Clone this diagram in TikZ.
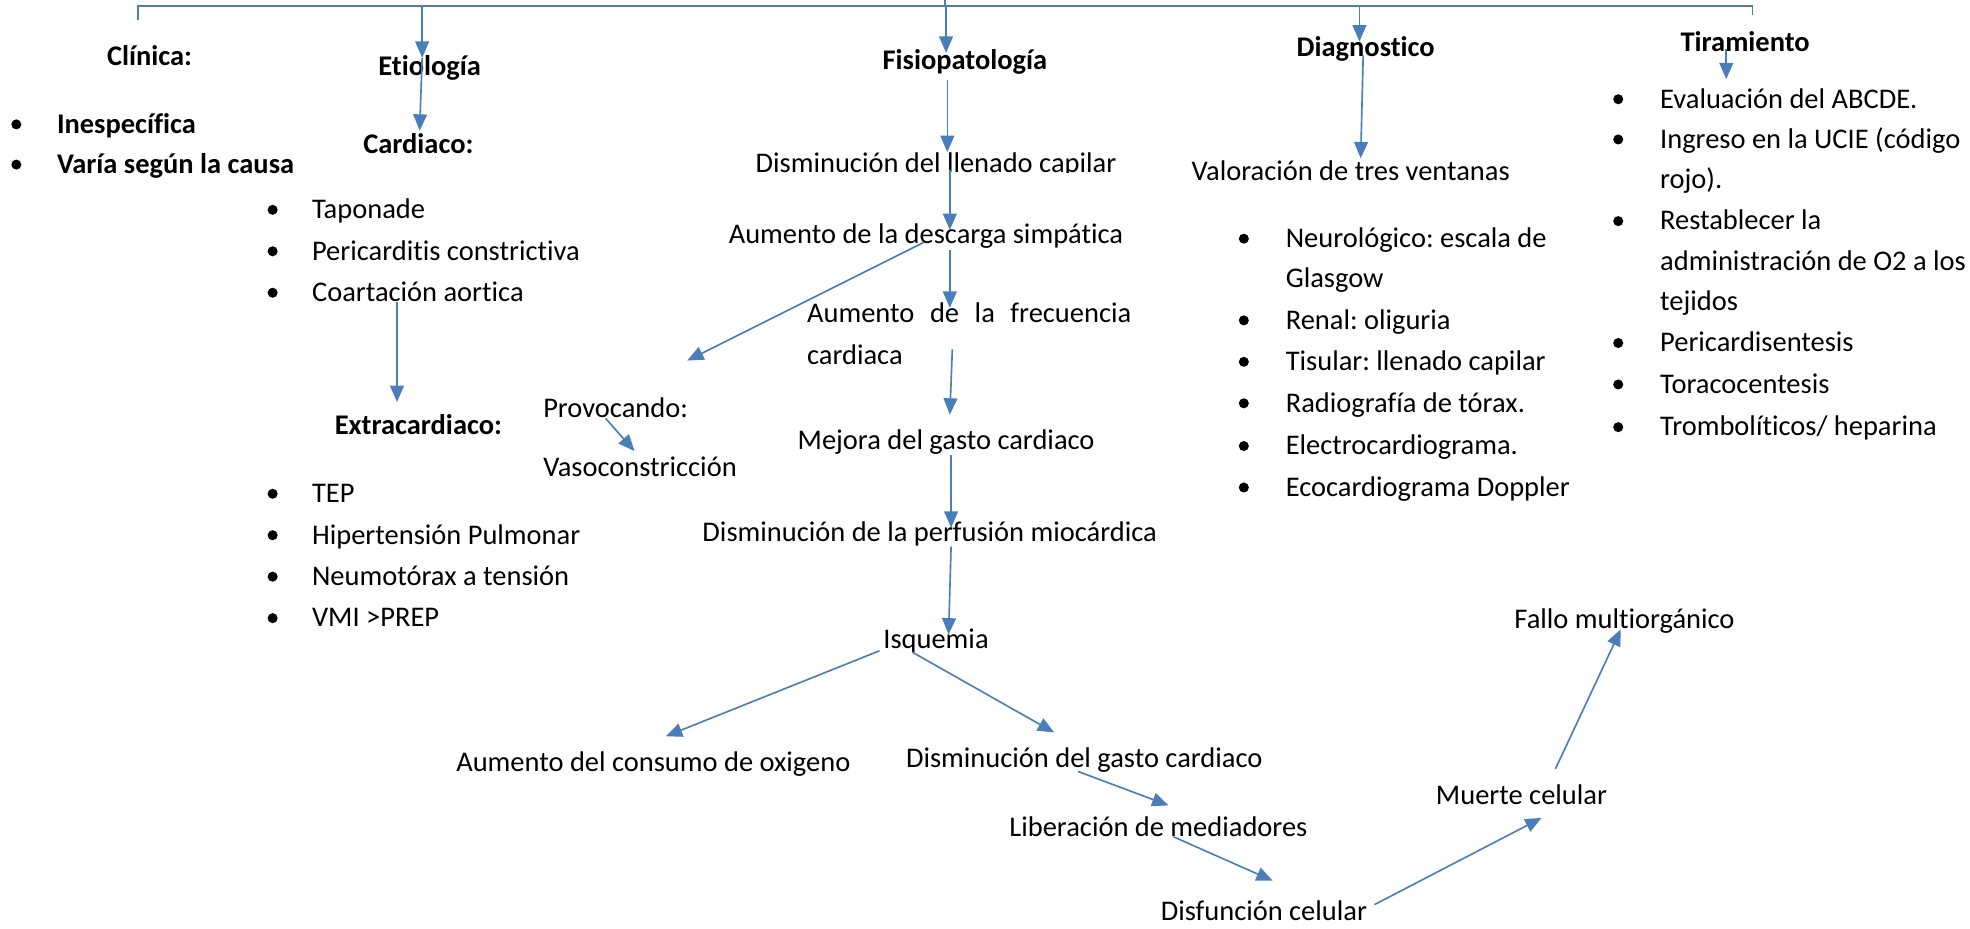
\documentclass[tikz,border=0pt]{standalone}
\usepackage{fontspec}
\setmainfont{Carlito}[Ligatures=NoCommon]
\usetikzlibrary{arrows.meta}
\definecolor{arr}{HTML}{4A7EBB}
\frenchspacing
\begin{document}
\begin{tikzpicture}[x=0.5pt,y=-0.5pt,
  every node/.style={inner sep=0pt, font=\fontsize{11.33}{13.6}\selectfont\frenchspacing},
  txt/.style={anchor=base},
  lt/.style={anchor=base west},
  hd/.style={anchor=base, font=\fontsize{11.33}{13.6}\selectfont\bfseries},
  bl/.style={anchor=base west, font=\fontsize{11.33}{13.6}\selectfont\bfseries},
  bul/.style={circle, fill=black, minimum size=4pt, inner sep=0pt},
  arw/.style={draw=arr, line width=0.65pt, -{Triangle[length=6.5pt,width=5.5pt]}},
  ln/.style={draw=arr, line width=0.65pt}]
\path[use as bounding box] (0,0) rectangle (1568,739.4);

% top bracket
\coordinate (bl0) at (110,16);
\coordinate (bl1) at (110,5);
\coordinate (br1) at (1395,5);
\coordinate (br0) at (1395,12);
\coordinate (bc0) at (752,0);
\coordinate (bc1) at (752,5);
\draw[ln] (bl0) -- (bl1) -- (br1) -- (br0);
\draw[ln] (bc0) -- (bc1);

% Clinica
\node[hd] (clin) at (119,52) {Clínica:};
\node[bul] (b1) at (13,99) {};
\node[bl] (ines) at (45,106) {Inespecífica};
\node[bul] (b2) at (13,131) {};
\node[bl] (varia) at (45,138) {Varía según la causa};

% Etiologia
\node[hd] (etio) at (342,60) {Etiología};
\node[hd] (card) at (333,122) {Cardiaco:};
\node[bul] (c1b) at (217,167) {};
\node[lt] (c1) at (248,174) {Taponade};
\node[bul] (c2b) at (217,200) {};
\node[lt] (c2) at (248,207) {Pericarditis constrictiva};
\node[bul] (c3b) at (217,233) {};
\node[lt] (c3) at (248,240) {Coartación aortica};
\node[hd] (extra) at (333,346) {Extracardiaco:};
\node[bul] (x1b) at (217,393) {};
\node[lt] (x1) at (248,400) {TEP};
\node[bul] (x2b) at (217,426) {};
\node[lt] (x2) at (248,433) {Hipertensión Pulmonar};
\node[bul] (x3b) at (217,459) {};
\node[lt] (x3) at (248,466) {Neumotórax a tensión};
\node[bul] (x4b) at (217,492) {};
\node[lt] (x4) at (248,499) {VMI >PREP};

\coordinate (e0) at (336,5);
\coordinate (e1) at (336,46);
\coordinate (e2) at (334,104);
\draw[arw] (e0) -- (e1);
\draw[arw] (e1) -- (e2);
\coordinate (x0) at (316,240);
\coordinate (xe) at (316,320);
\draw[arw] (x0) -- (xe);

% Fisiopatologia
\node[hd] (fisio) at (768,55) {Fisiopatología};
\begin{scope}
\clip (550,100) rectangle (950,137);
\node[txt] (llen) at (745,137) {Disminución del llenado capilar};
\end{scope}
\node[txt] (desc) at (737,194) {Aumento de la descarga simpática};
\node[lt] (frec) at (642,257) {\hbox to 129pt{Aumento\hfil de\hfil la\hfil frecuencia}};
\node[lt] (frec2) at (642,290) {cardiaca};
\node[lt] (prov) at (432,332) {Provocando:};
\node[lt] (vaso) at (432,379) {Vasoconstricción};
\node[txt] (mej) at (753,358) {Mejora del gasto cardiaco};
\node[txt] (perf) at (740,431) {Disminución de la perfusión miocárdica};
\node[txt] (isq) at (745,516) {Isquemia};
\node[txt] (cons) at (520,614) {Aumento del consumo de oxigeno};
\node[txt] (gasto) at (863,611) {Disminución del gasto cardiaco};
\node[txt] (lib) at (922,666) {Liberación de mediadores};
\node[txt] (disf) at (1006,733) {Disfunción celular};
\node[txt] (muer) at (1211,640) {Muerte celular};
\node[txt] (fallo) at (1293,500) {Fallo multiorgánico};

\coordinate (f0) at (753,5);   \coordinate (f1) at (753,42);
\coordinate (f2) at (754,64);  \coordinate (f3) at (754,121);
\coordinate (f4) at (756,135); \coordinate (f5) at (756,183);
\coordinate (f6) at (756,199); \coordinate (f7) at (756,245);
\coordinate (f8) at (735,193); \coordinate (f9) at (547,287);
\coordinate (f10) at (758,278); \coordinate (f11) at (756,330);
\coordinate (f12) at (757,362); \coordinate (f13) at (757,420);
\coordinate (f14) at (757,435); \coordinate (f15) at (755,505);
\coordinate (f16) at (700,518); \coordinate (f17) at (530,586);
\coordinate (f18) at (726,519); \coordinate (f19) at (839,583);
\coordinate (f20) at (858,614); \coordinate (f21) at (930,641);
\coordinate (f22) at (934,666); \coordinate (f23) at (1013,701);
\coordinate (f24) at (1094,720); \coordinate (f25) at (1227,651);
\coordinate (f26) at (1238,612); \coordinate (f27) at (1290,501);
\coordinate (p0) at (482,333); \coordinate (p1) at (505,359);
\draw[arw] (f0) -- (f1);
\draw[arw] (f2) -- (f3);
\draw[arw] (f4) -- (f5);
\draw[arw] (f6) -- (f7);
\draw[arw] (f8) -- (f9);
\draw[arw] (f10) -- (f11);
\draw[arw] (f12) -- (f13);
\draw[arw] (f14) -- (f15);
\draw[arw] (f16) -- (f17);
\draw[arw] (f18) -- (f19);
\draw[arw] (f20) -- (f21);
\draw[arw] (f22) -- (f23);
\draw[arw] (f24) -- (f25);
\draw[arw] (f26) -- (f27);
\draw[arw] (p0) -- (p1);

% Diagnostico
\node[hd] (diag) at (1087,45) {Diagnostico};
\node[txt] (valo) at (1075,144) {Valoración de tres ventanas};
\node[bul] (d1b) at (990,190) {};
\node[lt] (d1) at (1023,197) {Neurológico: escala de};
\node[lt] (d1a) at (1023,229) {Glasgow};
\node[bul] (d2b) at (990,255) {};
\node[lt] (d2) at (1023,262) {Renal: oliguria};
\node[bul] (d3b) at (990,288) {};
\node[lt] (d3) at (1023,295) {Tisular: llenado capilar};
\node[bul] (d4b) at (990,321) {};
\node[lt] (d4) at (1023,328) {Radiografía de tórax.};
\node[bul] (d5b) at (990,355) {};
\node[lt] (d5) at (1023,362) {Electrocardiograma.};
\node[bul] (d6b) at (990,388) {};
\node[lt] (d6) at (1023,395) {Ecocardiograma Doppler};
\coordinate (g0) at (1082,5);  \coordinate (g1) at (1082,33);
\coordinate (g2) at (1085,44); \coordinate (g3) at (1083,126);
\draw[arw] (g0) -- (g1);
\draw[arw] (g2) -- (g3);

% Tiramiento
\node[hd] (tira) at (1389,41) {Tiramiento};
\coordinate (t0) at (1374,39); \coordinate (t1) at (1374,63);
\draw[arw] (t0) -- (t1);
\node[bul] (t1b) at (1288,79) {};
\node[lt] (tr1) at (1321,86) {Evaluación del ABCDE.};
\node[bul] (t2b) at (1288,111) {};
\node[lt] (tr2) at (1321,118) {Ingreso en la UCIE (código};
\node[lt] (tr2a) at (1321,150) {rojo).};
\node[bul] (t3b) at (1288,176) {};
\node[lt] (tr3) at (1321,183) {Restablecer la};
\node[lt] (tr3a) at (1321,215) {administración de O2 a los};
\node[lt] (tr3b) at (1321,247) {tejidos};
\node[bul] (t4b) at (1288,273) {};
\node[lt] (tr4) at (1321,280) {Pericardisentesis};
\node[bul] (t5b) at (1288,306) {};
\node[lt] (tr5) at (1321,313) {Toracocentesis};
\node[bul] (t6b) at (1288,340) {};
\node[lt] (tr6) at (1321,347) {Trombolíticos/ heparina};
\end{tikzpicture}
\end{document}
